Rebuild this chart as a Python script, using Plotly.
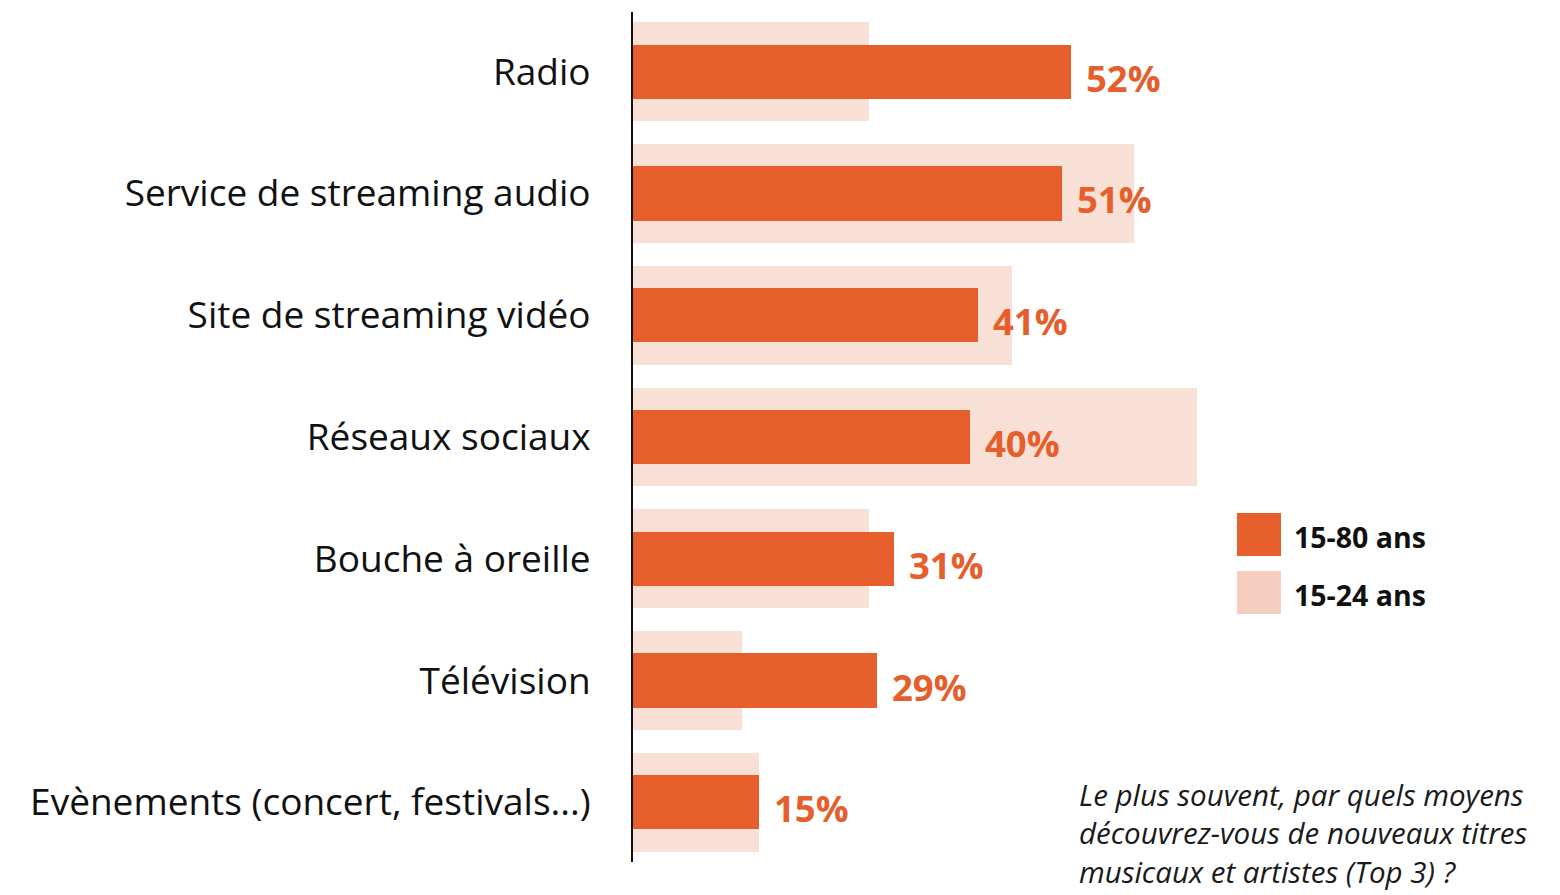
import plotly.graph_objects as go

categories = ["Radio", "Service de streaming audio", "Site de streaming vidéo",
              "Réseaux sociaux", "Bouche à oreille", "Télévision",
              "Evènements (concert, festivals...)"]
values_15_80 = [52, 51, 41, 40, 31, 29, 15]
values_15_24 = [28, 59.5, 45, 67, 28, 13, 15]
series_names = ["15-80 ans", "15-24 ans"]
question_lines = ["Le plus souvent, par quels moyens",
                  "découvrez-vous de nouveaux titres",
                  "musicaux et artistes (Top 3) ?"]

DARK = "#E55E2B"
LIGHT = "#F9E0D7"
LIGHT_LEG = "#F5CEBF"
FONT = "Open Sans"

OFF = 8  # page body margin
W, H = 1560 - OFF, 895 - OFF
L, T = 633 - OFF, 12 - OFF
R = W - (1307 - OFF)
B = H - (862 - OFF)
PW, PH = W - L - R, H - T - B

def px(xp):
    return (xp - OFF - L) / PW

def py(yp):
    return (H - B - (yp - OFF)) / PH

fig = go.Figure()
fig.add_trace(go.Bar(y=categories, x=values_15_24, orientation="h", name=series_names[1],
                     marker=dict(color=LIGHT, line=dict(width=0)), width=0.81,
                     hoverinfo="x+y"))
fig.add_trace(go.Bar(y=categories, x=values_15_80, orientation="h", name=series_names[0],
                     marker=dict(color=DARK, line=dict(width=0)), width=0.445,
                     hoverinfo="x+y"))

annotations = []
for c, v in zip(categories, values_15_80):
    annotations.append(dict(x=v, y=c, xref="x", yref="y", text=f"<b>{v}%</b>",
                            showarrow=False, xanchor="left", yanchor="middle",
                            xshift=13, yshift=-6,
                            font=dict(family=FONT, size=36.5, color=DARK)))

shapes = []
leg_colors = [DARK, LIGHT_LEG]
leg_tops = [513, 571]
for name, col, top in zip(series_names, leg_colors, leg_tops):
    shapes.append(dict(type="rect", xref="paper", yref="paper",
                       x0=px(1237), x1=px(1281), y0=py(top + 43), y1=py(top),
                       fillcolor=col, line=dict(width=0)))
    annotations.append(dict(x=px(1292), y=py(top + 24), xref="paper", yref="paper",
                            text=f"<b>{name}</b>", showarrow=False,
                            xanchor="left", yanchor="middle",
                            font=dict(family=FONT, size=28.5, color="#111111")))

annotations.append(dict(x=px(1077), y=py(894), xref="paper", yref="paper",
                        text="<i>" + "<br>".join(question_lines) + "</i>",
                        showarrow=False, align="left",
                        xanchor="left", yanchor="bottom",
                        font=dict(family=FONT, size=29.5, color="#1a1a1a")))

fig.update_layout(
    width=W, height=H,
    margin=dict(l=L, r=R, t=T, b=B, pad=0),
    barmode="overlay", bargap=0,
    paper_bgcolor="white", plot_bgcolor="white",
    showlegend=False,
    annotations=annotations, shapes=shapes,
    xaxis=dict(range=[0, PW / 8.42], visible=False, fixedrange=True),
    yaxis=dict(categoryorder="array", categoryarray=categories,
               range=[6.49, -0.49], showline=True, linecolor="#111111", linewidth=2,
               ticks="", showgrid=False, zeroline=False,
               ticklabelstandoff=33,
               tickfont=dict(family=FONT, size=37, color="#111111")),
)

fig.write_html("out.html")
